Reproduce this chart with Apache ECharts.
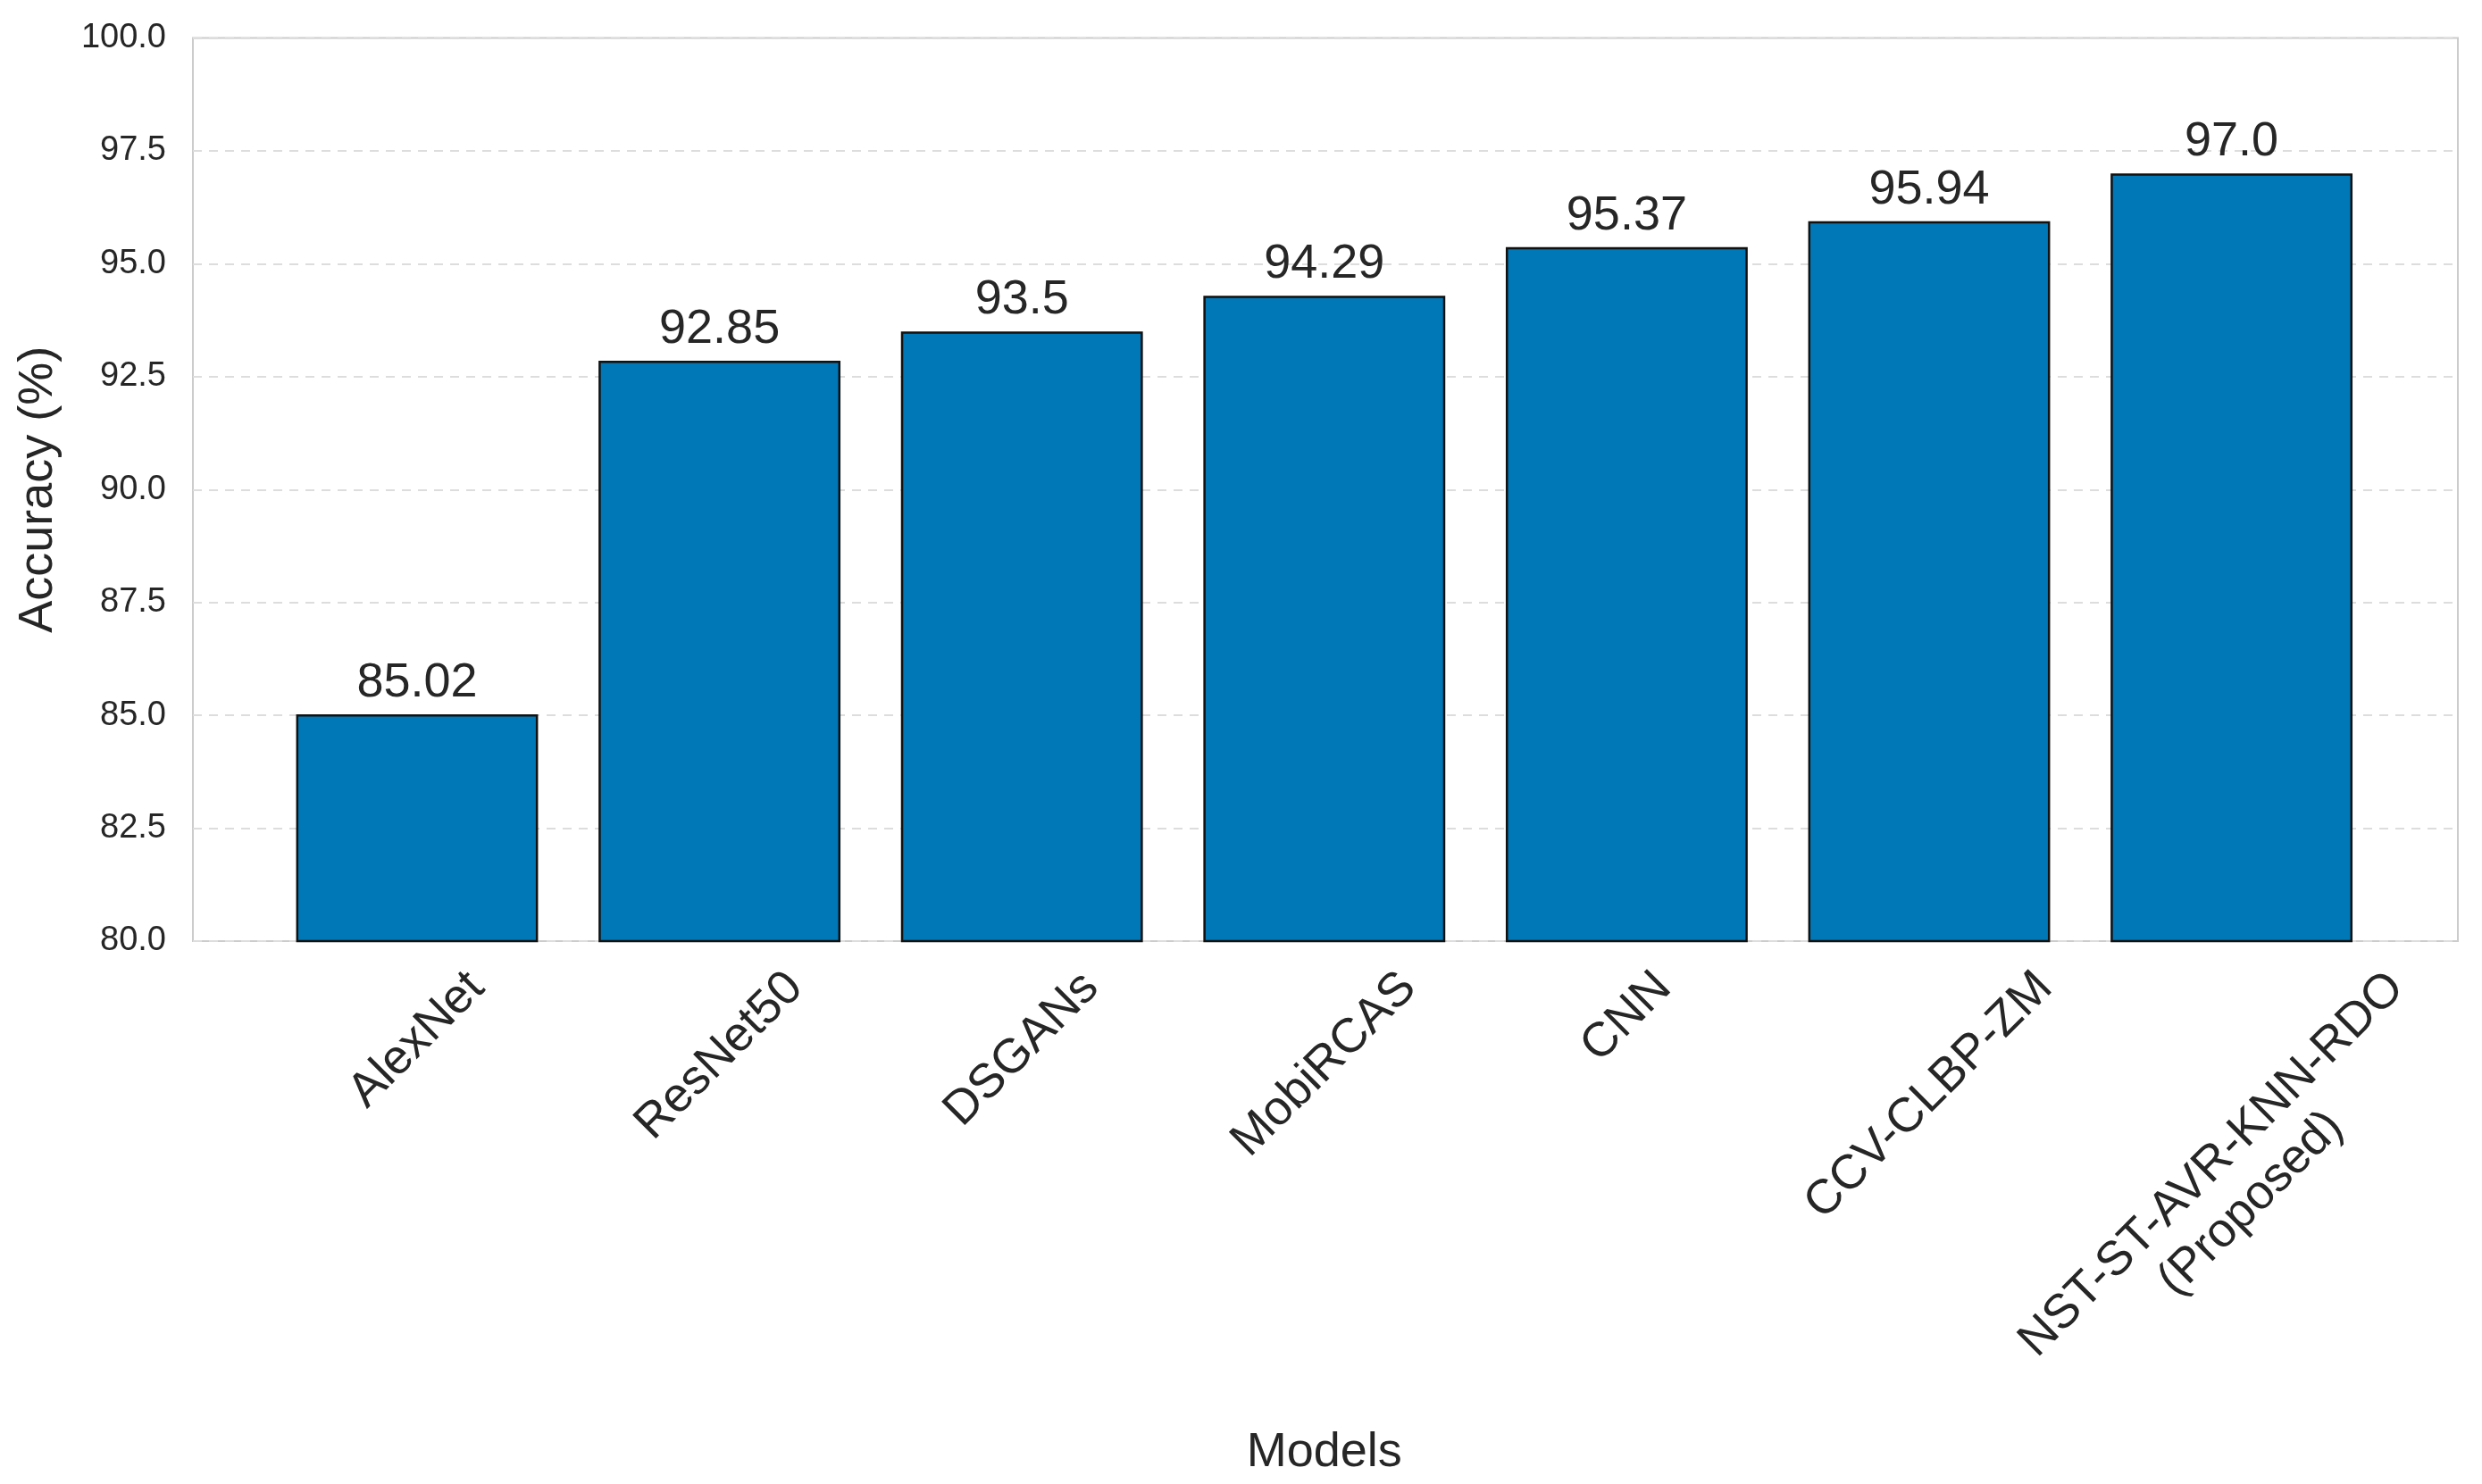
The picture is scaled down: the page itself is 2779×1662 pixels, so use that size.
<!DOCTYPE html>
<html>
<head>
<meta charset="utf-8">
<script src="https://cdn.jsdelivr.net/npm/echarts@6/dist/echarts.min.js"></script>
<style>
html,body{margin:0;padding:0;background:#fff;}
#chart{width:2779px;height:1662px;}
</style>
</head>
<body>
<div id="chart"></div>
<script>
// ---- data ----
const categories = ['AlexNet', 'ResNet50', 'DSGANs', 'MobiRCAS', 'CNN', 'CCV-CLBP-ZM', 'NST-ST-AVR-KNN-RDO\n(Proposed)'];
const accuracy = [85.02, 92.85, 93.5, 94.29, 95.37, 95.94, 97.0];
const valueLabels = ['85.02', '92.85', '93.5', '94.29', '95.37', '95.94', '97.0'];
const yTicks = [80.0, 82.5, 85.0, 87.5, 90.0, 92.5, 95.0, 97.5, 100.0];

// ---- layout ----
const FONT = '"Liberation Sans", Arial, sans-serif';
const W = 2779, H = 1662;
const plotL = 216, plotR = 2752, plotT = 42.5, plotB = 1054;
const nCat = categories.length;
const catStep = 338.6;
const innerL = 467 - catStep / 2;
const innerR = innerL + catStep * nCat;

// rotated tick labels: centre of each (rotated) text block sits below its tick,
// with the block's top corner a fixed gap under the axis (matplotlib ha='center').
const xLabelSize = 54;
const lineH = 62;
const labelPad = 22;
const SQ2 = Math.SQRT2;
const cv = document.createElement('canvas').getContext('2d');
cv.font = xLabelSize + 'px "Liberation Sans", Arial, sans-serif';
const rich = {
  t: { fontSize: xLabelSize, lineHeight: lineH, color: '#262626', fontFamily: FONT }
};
const labelText = categories.map((c, i) => {
  const lines = c.split('\n');
  const L = Math.max(...lines.map(s => cv.measureText(s).width));
  const hBlock = lineH * lines.length;
  const D = labelPad + (L + hBlock) / (2 * SQ2);
  const S = SQ2 * D;
  rich['sp' + i] = { fontSize: 1, lineHeight: S, height: S };
  rich['hs' + i] = { fontSize: 1, width: S };
  return '{sp' + i + '|\u00a0}\n' + lines.map(l => '{t|' + l + '}{hs' + i + '|\u00a0}').join('\n');
});

const chart = echarts.init(document.getElementById('chart'), null, { renderer: 'canvas' });
chart.setOption({
  backgroundColor: '#ffffff',
  animation: false,
  textStyle: { fontFamily: FONT },
  grid: [
    { left: plotL, right: W - plotR, top: plotT, bottom: H - plotB, show: true, borderColor: '#cccccc', borderWidth: 2, backgroundColor: 'transparent', containLabel: false, outerBoundsMode: 'none' },
    { left: innerL, right: W - innerR, top: plotT, bottom: H - plotB, containLabel: false, outerBoundsMode: 'none' }
  ],
  xAxis: [
    {
      gridIndex: 0, type: 'value', min: 0, max: 1, show: false
    },
    {
      gridIndex: 1, type: 'category', data: categories,
      axisLine: { show: false }, axisTick: { show: false }, splitLine: { show: false },
      axisLabel: {
        interval: 0, rotate: 45, align: 'center', verticalAlign: 'middle',
        margin: 0, fontSize: xLabelSize, color: '#262626', fontFamily: FONT, hideOverlap: false,
        formatter: (v, i) => labelText[i],
        rich: rich
      },
      name: 'Models', nameLocation: 'middle', nameGap: 546,
      nameTextStyle: { fontSize: 54, color: '#262626', fontFamily: FONT }
    }
  ],
  yAxis: [
    {
      gridIndex: 0, type: 'value', min: 80, max: 100, interval: 2.5,
      axisLine: { show: false }, axisTick: { show: false },
      axisLabel: { margin: 30, fontSize: 38, color: '#262626', fontFamily: FONT, formatter: v => v.toFixed(1) },
      splitLine: { show: true, lineStyle: { color: '#dddddd', width: 2, type: [10, 8] } },
      name: 'Accuracy (%)', nameLocation: 'middle', nameGap: 146,
      nameTextStyle: { fontSize: 54, color: '#262626', fontFamily: FONT }
    },
    {
      gridIndex: 1, type: 'value', min: 80, max: 100, show: false, splitLine: { show: false }
    }
  ],
  series: [{
    type: 'bar', xAxisIndex: 1, yAxisIndex: 1,
    data: accuracy, barWidth: '80%',
    itemStyle: { color: '#0077b6', borderColor: '#111111', borderWidth: 2.5 },
    label: {
      show: true, position: 'top', distance: 8, fontSize: 54, color: '#262626', fontFamily: FONT,
      formatter: p => valueLabels[p.dataIndex]
    }
  }]
});
</script>
</body>
</html>
